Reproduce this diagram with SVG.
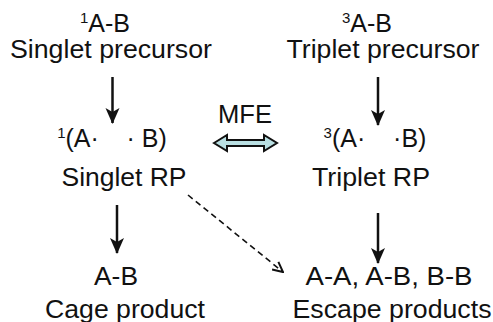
<svg xmlns="http://www.w3.org/2000/svg" width="493" height="322" viewBox="0 0 493 322">
<style>
text{font-family:"Liberation Sans",Arial,sans-serif;font-size:25px;fill:#111;text-anchor:middle}
.sup{font-size:15px}
.solid{stroke:#111;stroke-width:2.5;fill:none}
.dash{stroke:#111;stroke-width:1.6;fill:none;stroke-dasharray:6 4}
</style>
<defs>
<marker id="head" markerWidth="16" markerHeight="16" viewBox="0 0 16 16" refX="15" refY="8" orient="auto" markerUnits="userSpaceOnUse">
<path d="M0,1 L16,8 L0,15 L4,8 z" fill="#111"/>
</marker>
<marker id="headd" markerWidth="12" markerHeight="12" viewBox="0 0 12 12" refX="11" refY="6" orient="auto" markerUnits="userSpaceOnUse">
<path d="M1,1 L11,6 L1,11" fill="none" stroke="#111" stroke-width="2"/>
</marker>
</defs>
<rect width="493" height="322" fill="#fff"/>
<g id="singlet-precursor">
<text x="105" y="32"><tspan class="sup" dy="-9">1</tspan><tspan dy="9">A-B</tspan></text>
<text x="111" y="58" textLength="202" lengthAdjust="spacingAndGlyphs">Singlet precursor</text>
</g>
<g id="triplet-precursor">
<text x="367" y="32"><tspan class="sup" dy="-9">3</tspan><tspan dy="9">A-B</tspan></text>
<text x="383" y="58" textLength="193" lengthAdjust="spacingAndGlyphs">Triplet precursor</text>
</g>
<g id="singlet-rp">
<text x="112" y="147"><tspan class="sup" dy="-9">1</tspan><tspan dy="9">(A·&#160;&#160;&#160;&#160;· B)</tspan></text>
<text x="124" y="186" textLength="125" lengthAdjust="spacingAndGlyphs">Singlet RP</text>
</g>
<g id="triplet-rp">
<text x="375" y="147"><tspan class="sup" dy="-9">3</tspan><tspan dy="9">(A·&#160;&#160;&#160;&#160;·B)</tspan></text>
<text x="371" y="186" textLength="118" lengthAdjust="spacingAndGlyphs">Triplet RP</text>
</g>
<g id="cage-product">
<text x="116" y="285" textLength="44" lengthAdjust="spacingAndGlyphs">A-B</text>
<text x="125" y="318" textLength="160" lengthAdjust="spacingAndGlyphs">Cage product</text>
</g>
<g id="escape-products">
<text x="389" y="285" textLength="167" lengthAdjust="spacingAndGlyphs">A-A, A-B, B-B</text>
<text x="392" y="318" textLength="199" lengthAdjust="spacingAndGlyphs">Escape products</text>
</g>
<g id="mfe">
<text x="245" y="123" textLength="54" lengthAdjust="spacingAndGlyphs">MFE</text>
<path d="M214,143 L227,135 L227,140 L264,140 L264,135 L277,143 L264,151 L264,146 L227,146 L227,151 Z" fill="#b9dfe2" stroke="#111" stroke-width="2" stroke-linejoin="miter"/>
</g>
<g id="connectors">
<line class="solid" x1="112.5" y1="77" x2="112.5" y2="123" marker-end="url(#head)"/>
<line class="solid" x1="378" y1="77" x2="378" y2="125" marker-end="url(#head)"/>
<line class="solid" x1="117" y1="205" x2="117" y2="253" marker-end="url(#head)"/>
<line class="solid" x1="378" y1="213" x2="378" y2="263" marker-end="url(#head)"/>
<line class="dash" x1="188" y1="195" x2="283" y2="272" marker-end="url(#headd)"/>
</g>
</svg>
